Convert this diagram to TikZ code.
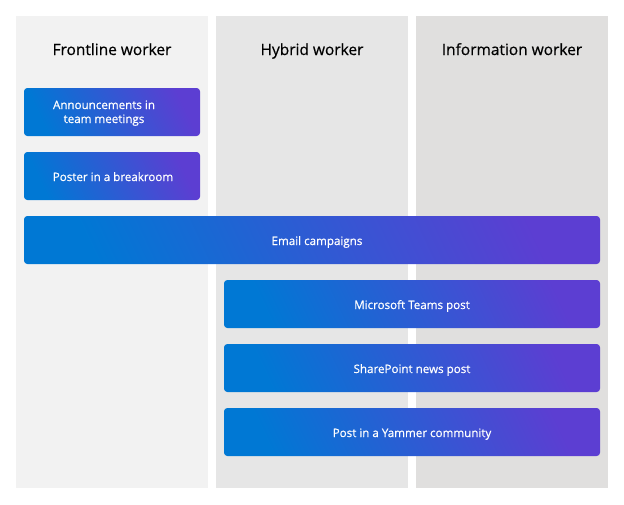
\documentclass[tikz,border=0pt]{standalone}
\usepackage{fontspec}
\setmainfont{Open Sans}
\newfontfamily\semib[FakeBold=0.5]{Open Sans}
\definecolor{colA}{HTML}{F2F2F2}
\definecolor{colB}{HTML}{E6E6E6}
\definecolor{colC}{HTML}{E0DFDE}
\definecolor{gblue}{HTML}{0078D4}
\definecolor{gpurp}{HTML}{5C3ED2}
\pgfdeclarehorizontalshading{bluepurple}{100bp}{color(0bp)=(gblue); color(25bp)=(gblue); color(75bp)=(gpurp); color(100bp)=(gpurp)}
\tikzset{
  title/.style={font=\semib\fontsize{11.6}{14}\selectfont, text=black, anchor=base},
  chan/.style={rounded corners=2.5pt, shading=bluepurple, shading angle=25},
  chantext/.style={font=\semib\fontsize{8.7}{10.5}\selectfont, text=white, align=center, anchor=base}
}
\begin{document}
\begin{tikzpicture}[x=0.75pt,y=-0.75pt]
\useasboundingbox (0,0) rectangle (624,504);
\fill[white] (0,0) rectangle (624,504);
% lanes
\fill[colA] (16,16) rectangle (208,488);
\fill[colB] (216,16) rectangle (408,488);
\fill[colC] (416,16) rectangle (608,488);
\node[title] (t1) at (112,55) {Frontline worker};
\node[title] (t2) at (312,55) {Hybrid worker};
\node[title] (t3) at (512,55) {Information worker};
% channels
\shade[chan] (24,88) rectangle (200,136);
\node[chantext] (c1) at (104,123) {Announcements in\\team meetings};
\shade[chan] (24,152) rectangle (200,200);
\node[chantext] (c2) at (113,181) {Poster in a breakroom};
\shade[chan] (24,216) rectangle (600,264);
\node[chantext] (c3) at (317,245) {Email campaigns};
\shade[chan] (224,280) rectangle (600,328);
\node[chantext] (c4) at (412,309) {Microsoft Teams post};
\shade[chan] (224,344) rectangle (600,392);
\node[chantext] (c5) at (412,373) {SharePoint news post};
\shade[chan] (224,408) rectangle (600,456);
\node[chantext] (c6) at (412,437) {Post in a Yammer community};
\end{tikzpicture}
\end{document}
